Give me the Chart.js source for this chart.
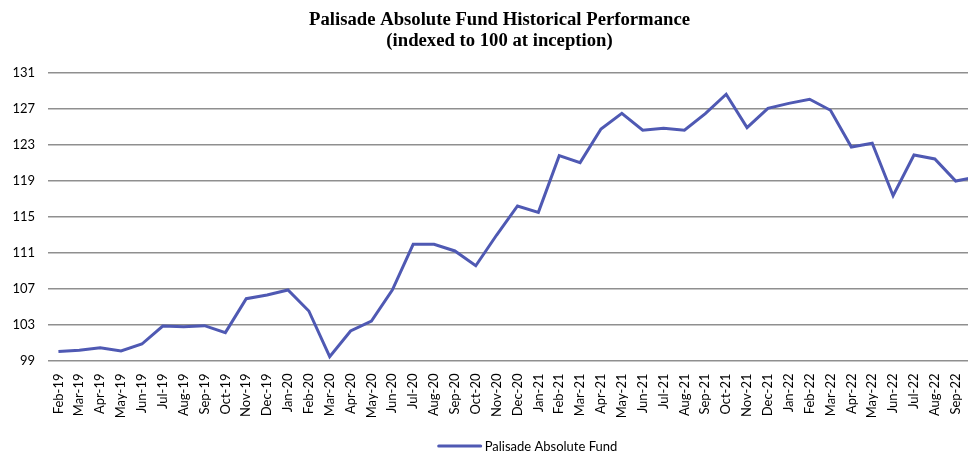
<!DOCTYPE html>
<html>
<head>
<meta charset="utf-8">
<script src="https://cdn.jsdelivr.net/npm/chart.js@4.4.0/dist/chart.umd.min.js"></script>
<style>
  html, body { margin: 0; padding: 0; background: #ffffff; overflow: hidden; }
  #wrap { position: relative; width: 1000px; height: 451px; }
</style>
</head>
<body>
<div id="wrap"><canvas id="c" width="1000" height="451"></canvas></div>
<script>
const categories = [
  "Feb-19","Mar-19","Apr-19","May-19","Jun-19","Jul-19","Aug-19","Sep-19","Oct-19","Nov-19","Dec-19",
  "Jan-20","Feb-20","Mar-20","Apr-20","May-20","Jun-20","Jul-20","Aug-20","Sep-20","Oct-20","Nov-20","Dec-20",
  "Jan-21","Feb-21","Mar-21","Apr-21","May-21","Jun-21","Jul-21","Aug-21","Sep-21","Oct-21","Nov-21","Dec-21",
  "Jan-22","Feb-22","Mar-22","Apr-22","May-22","Jun-22","Jul-22","Aug-22","Sep-22","Oct-22"
];
const fundValues = [
  100.0, 100.15, 100.42, 100.06, 100.83, 102.83, 102.76, 102.87, 102.1, 105.87, 106.28,
  106.83, 104.5, 99.42, 102.28, 103.39, 106.83, 111.91, 111.91, 111.17, 109.53, 112.94, 116.17,
  115.46, 121.76, 120.98, 124.72, 126.46, 124.58, 124.8, 124.58, 126.43, 128.58, 124.87, 127.02,
  127.57, 128.02, 126.8, 122.72, 123.13, 117.31, 121.83, 121.39, 118.94, 119.4
];
const seriesName = "Palisade Absolute Fund";
const titleLines = ["Palisade Absolute Fund Historical Performance", "(indexed to 100 at inception)"];
const yMin = 99, yMax = 131, yStep = 4;

const lineColor = "#4f59b3";

const legendPlugin = {
  id: "customLegend",
  afterDraw(chart) {
    const ctx = chart.ctx;
    ctx.save();
    const cx = 528, cy = 446;
    ctx.font = "13px Lato";
    const tw = ctx.measureText(seriesName).width;
    const lineW = 42, gap = 4;
    const total = lineW + gap + tw;
    const x0 = cx - total / 2;
    ctx.strokeStyle = lineColor;
    ctx.lineWidth = 3;
    ctx.lineCap = "round";
    ctx.beginPath();
    ctx.moveTo(x0, cy);
    ctx.lineTo(x0 + lineW, cy);
    ctx.stroke();
    ctx.fillStyle = "#000000";
    ctx.textBaseline = "middle";
    ctx.textAlign = "left";
    ctx.fillText(seriesName, x0 + lineW + gap, cy + 1);
    ctx.restore();
  }
};

new Chart(document.getElementById("c"), {
  type: "line",
  data: {
    labels: categories,
    datasets: [{
      label: seriesName,
      data: fundValues,
      borderColor: lineColor,
      backgroundColor: lineColor,
      borderWidth: 3,
      pointRadius: 0,
      tension: 0,
      fill: false
    }]
  },
  options: {
    responsive: false,
    animation: false,
    devicePixelRatio: 1,
    layout: { padding: { left: 12, right: 13, top: 0, bottom: 0 } },
    plugins: {
      legend: { display: false },
      tooltip: { enabled: false },
      title: {
        display: true,
        text: titleLines,
        color: "#000000",
        font: { family: "Liberation Serif", size: 18.7, weight: "bold", lineHeight: 1.125 },
        padding: { top: 10, bottom: 20.4 }
      }
    },
    scales: {
      x: {
        offset: true,
        grid: { display: false },
        border: { display: false },
        afterFit(scale) { scale.height = 90.5; },
        ticks: {
          autoSkip: false,
          maxRotation: 90,
          minRotation: 90,
          color: "#000000",
          font: { family: "Lato", size: 13 },
          padding: 5
        }
      },
      y: {
        min: yMin,
        max: yMax,
        border: { display: false },
        afterFit(scale) { scale.width = 36; },
        grid: { color: "#8f8f8f", lineWidth: 1.5, drawTicks: false },
        ticks: {
          stepSize: yStep,
          color: "#000000",
          font: { family: "Lato", size: 13 },
          padding: 13
        }
      }
    }
  },
  plugins: [legendPlugin]
});
</script>
</body>
</html>
